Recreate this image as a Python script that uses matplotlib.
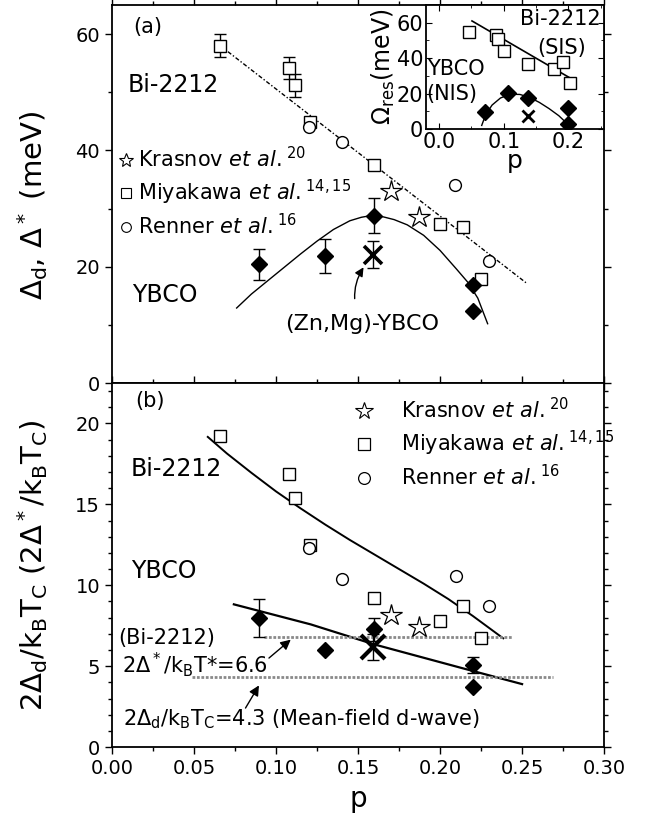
import numpy as np
import matplotlib
matplotlib.use("Agg")
import matplotlib.pyplot as plt
from matplotlib.lines import Line2D

plt.rcParams['font.family'] = ['DejaVu Sans']
plt.rcParams['mathtext.fontset'] = 'dejavusans'

# ---------------- panel (a): gap energies (meV) ----------------
miy_p = [0.066, 0.108, 0.1116, 0.121, 0.160, 0.1998, 0.214, 0.225]
miy_gap = [58.0, 54.2, 51.2, 44.9, 37.5, 27.4, 26.9, 17.9]
miy_gap_err = [2.0, 1.9, 2.0, 0, 0, 0, 0, 0]

ren_p = [0.120, 0.140, 0.209, 0.2297]
ren_gap = [44.0, 41.5, 34.0, 20.9]

kra_p = [0.170, 0.187]
kra_gap = [33.0, 28.5]

ybco_p = [0.0897, 0.130, 0.1596, 0.220, 0.220]
ybco_gap = [20.4, 21.85, 28.8, 16.9, 12.3]
ybco_gap_err = [2.6, 3.0, 3.0, 0, 0]

zn_p = [0.159]
zn_gap = [22.1]
zn_gap_err = [2.4]

# dash-dot guide through Bi-2212 data
bi_line_p = [0.066, 0.2526]
bi_line_gap = [58.0, 17.2]

# dome curve for YBCO
dome_p = [0.076, 0.085, 0.095, 0.105, 0.115, 0.125, 0.135, 0.145, 0.152, 0.158,
          0.165, 0.172, 0.180, 0.190, 0.200, 0.210, 0.217, 0.223, 0.229]
dome_gap = [12.9, 15.3, 17.6, 19.9, 22.2, 24.4, 26.4, 27.9, 28.5, 28.8,
            28.6, 28.1, 27.2, 25.4, 22.8, 19.6, 17.3, 14.6, 10.2]

# ---------------- panel (b): ratios ----------------
miy_ratio = [19.23, 16.9, 15.4, 12.47, 9.2, 7.82, 8.69, 6.72]
ren_p_b = [0.120, 0.140, 0.210, 0.230]
ren_ratio = [12.3, 10.4, 10.59, 8.73]
kra_ratio = [8.17, 7.45]
ybco_ratio = [7.96, 6.0, 7.28, 5.07, 3.72]
ybco_ratio_err = [1.18, 0, 0.7, 0.5, 0]
zn_ratio = [6.2]
zn_ratio_err = [0.8]

bi_curve_p = [0.0584, 0.070, 0.085, 0.100, 0.115, 0.130, 0.145, 0.160, 0.175,
              0.190, 0.205, 0.220, 0.2385]
bi_curve_ratio = [19.17, 18.15, 16.95, 15.8, 14.75, 13.75, 12.8, 11.9, 11.0,
                  10.1, 9.15, 8.1, 6.72]

yb_curve_p = [0.0743, 0.1212, 0.160, 0.213, 0.250]
yb_curve_ratio = [8.82, 7.58, 6.34, 4.89, 3.89]

pg_level = 6.8          # 2D*/kBT* = 6.6 guide
pg_span = [0.0925, 0.2438]
mf_level = 4.3          # mean-field d-wave
mf_span = [0.0488, 0.269]

# ---------------- inset: resonance energy ----------------
ins_sq_p = [0.046, 0.0877, 0.0914, 0.100, 0.137, 0.178, 0.191, 0.203]
ins_sq_res = [54.5, 53.0, 50.7, 43.8, 36.8, 33.6, 38.1, 26.1]
ins_line_p = [0.051, 0.209]
ins_line_res = [61.0, 27.4]
ins_dia_p = [0.0705, 0.107, 0.138, 0.199, 0.199]
ins_dia_res = [9.3, 20.3, 17.5, 11.6, 2.8]
ins_x_p = [0.138]
ins_x_res = [7.3]
ins_curve_p = [0.066, 0.072, 0.082, 0.095, 0.110, 0.125, 0.140, 0.155, 0.170, 0.185, 0.198]
ins_curve_res = [2.0, 8.0, 13.5, 17.5, 19.6, 19.5, 17.8, 15.0, 11.5, 7.5, 3.0]

fig = plt.figure(figsize=(6.45, 8.23), dpi=100)
axa = fig.add_axes([0.1736, 0.5346, 0.763, 0.4593])
axb = fig.add_axes([0.1736, 0.0923, 0.763, 0.4423])
axi = fig.add_axes([0.6605, 0.8433, 0.2761, 0.1506])

sq = dict(marker='s', ms=8, mfc='white', mec='k', mew=1.0, ls='none')
ci = dict(marker='o', ms=8.5, mfc='white', mec='k', mew=1.0, ls='none')
st = dict(marker='*', ms=16, mfc='white', mec='k', mew=0.9, ls='none')
di = dict(marker='D', ms=8, mfc='k', mec='k', ls='none')
xx = dict(marker='x', ms=13, mec='k', mew=2.6, ls='none')
eb = dict(ecolor='k', elinewidth=1.0, capsize=4, capthick=1.0)

lab = [r'Krasnov $\mathit{et\ al.}^{20}$',
       r'Miyakawa $\mathit{et\ al.}^{14,15}$',
       r'Renner $\mathit{et\ al.}^{16}$']

# ---------- panel (a) ----------
ax = axa
ax.plot(bi_line_p, bi_line_gap, color='k', lw=1.0, dashes=(3, 1.5, 1, 1.5))
ax.plot(dome_p, dome_gap, color='k', lw=1.0)
ax.errorbar(miy_p, miy_gap, yerr=miy_gap_err, fmt='none', **eb)
ax.plot(miy_p, miy_gap, **sq)
ax.plot(ren_p, ren_gap, **ci)
ax.plot(kra_p, kra_gap, **st)
ax.errorbar(ybco_p, ybco_gap, yerr=ybco_gap_err, fmt='none', **eb)
ax.plot(ybco_p, ybco_gap, **di)
ax.errorbar(zn_p, zn_gap, yerr=zn_gap_err, fmt='none', **eb)
ax.plot(zn_p, zn_gap, **xx)

ax.set_xlim(0, 0.30)
ax.set_ylim(0, 65)
ax.set_xticks(np.arange(0, 0.301, 0.05))
ax.set_xticks(np.arange(0, 0.301, 0.025), minor=True)
ax.set_yticks([0, 20, 40, 60])
ax.set_yticks([10, 30, 50], minor=True)
ax.tick_params(labelbottom=False)
ax.set_ylabel(r'$\Delta_\mathrm{d}$, $\Delta^*$ (meV)', fontsize=21)
ax.yaxis.set_label_coords(-0.125, 0.47)

ax.text(0.013, 61.3, '(a)', fontsize=15, va='center')
ax.text(0.0093, 51.2, 'Bi-2212', fontsize=17, va='center')
ax.text(0.0123, 15.2, 'YBCO', fontsize=17, va='center')
ax.annotate('(Zn,Mg)-YBCO', xy=(0.1538, 20.1), xytext=(0.1526, 10.2),
            fontsize=16, ha='center', va='center',
            arrowprops=dict(arrowstyle='-|>', color='k', lw=1.0, mutation_scale=13,
                            shrinkA=9, shrinkB=1, connectionstyle='arc3,rad=-0.3'))

hl_a = [Line2D([], [], marker='*', ms=10, mfc='white', mec='k', mew=0.8, ls='none'),
        Line2D([], [], marker='s', ms=7, mfc='white', mec='k', mew=0.8, ls='none'),
        Line2D([], [], marker='o', ms=7, mfc='white', mec='k', mew=0.8, ls='none')]
ax.legend(hl_a, lab, loc='upper left', bbox_to_anchor=(-0.01, 0.66), frameon=False,
          fontsize=15, handlelength=0.6, handletextpad=0.3, labelspacing=0.3,
          borderaxespad=0.2)

# ---------- panel (b) ----------
ax = axb
ax.plot(bi_curve_p, bi_curve_ratio, color='k', lw=1.4)
ax.plot(yb_curve_p, yb_curve_ratio, color='k', lw=1.6)
ax.plot(pg_span, [pg_level, pg_level], color='#8a8a8a', lw=2.0, ls=(0, (1, 0.6)))
ax.plot(mf_span, [mf_level, mf_level], color='#8a8a8a', lw=2.0, ls=(0, (1, 0.6)))
ax.plot(miy_p, miy_ratio, **sq)
ax.plot(ren_p_b, ren_ratio, **ci)
ax.plot(kra_p, kra_ratio, **st)
ax.errorbar(ybco_p, ybco_ratio, yerr=ybco_ratio_err, fmt='none', **eb)
ax.plot(ybco_p, ybco_ratio, **di)
ax.errorbar(zn_p, zn_ratio, yerr=zn_ratio_err, fmt='none', **eb)
ax.plot(zn_p, zn_ratio, marker='x', ms=17, mec='k', mew=3, ls='none')

ax.set_xlim(0, 0.30)
ax.set_ylim(0, 22.5)
ax.set_xticks(np.arange(0, 0.301, 0.05))
ax.set_xticks(np.arange(0, 0.301, 0.025), minor=True)
ax.set_yticks([0, 5, 10, 15, 20])
ax.set_yticks(np.arange(0, 23, 1), minor=True)
ax.xaxis.set_major_formatter(plt.FormatStrFormatter('%.2f'))
ax.set_xlabel('p', fontsize=20, labelpad=5)
ax.set_ylabel(r'2$\Delta_\mathrm{d}$/k$_\mathrm{B}$T$_\mathrm{C}$ (2$\Delta^*$/k$_\mathrm{B}$T$_\mathrm{C}$)',
              fontsize=21)
ax.yaxis.set_label_coords(-0.125, 0.5)

ax.text(0.0143, 21.4, '(b)', fontsize=15, va='center')
ax.text(0.0113, 17.17, 'Bi-2212', fontsize=17, va='center')
ax.text(0.0118, 10.86, 'YBCO', fontsize=17, va='center')
ax.text(0.004, 6.74, '(Bi-2212)', fontsize=15, va='center')
ax.text(0.006, 5.1, r'2$\Delta^*$/k$_\mathrm{B}$T*=6.6', fontsize=15, va='center')
ax.text(0.007, 1.7, r'2$\Delta_\mathrm{d}$/k$_\mathrm{B}$T$_\mathrm{C}$=4.3 (Mean-field d-wave)',
        fontsize=15, va='center')
ax.annotate('', xy=(0.109, 6.64), xytext=(0.0957, 5.5),
            arrowprops=dict(arrowstyle='-|>', color='k', lw=1.0, mutation_scale=15,
                            shrinkA=0, shrinkB=0))
ax.annotate('', xy=(0.0896, 3.81), xytext=(0.0814, 2.41),
            arrowprops=dict(arrowstyle='-|>', color='k', lw=1.0, mutation_scale=15,
                            shrinkA=0, shrinkB=0))

hl_b = [Line2D([], [], marker='*', ms=13, mfc='white', mec='k', mew=0.8, ls='none'),
        Line2D([], [], marker='s', ms=8, mfc='white', mec='k', mew=0.9, ls='none'),
        Line2D([], [], marker='o', ms=8.5, mfc='white', mec='k', mew=0.9, ls='none')]
ax.legend(hl_b, lab, loc='upper left', bbox_to_anchor=(0.465, 0.995), frameon=False,
          fontsize=15, handlelength=1.0, handletextpad=1.3, labelspacing=0.3,
          borderaxespad=0.2)

for ax in (axa, axb):
    ax.tick_params(which='both', direction='out', top=True, right=True, labelsize=14,
                   width=1.0)
    ax.tick_params(which='major', length=5)
    ax.tick_params(which='minor', length=3)
    for s in ax.spines.values():
        s.set_linewidth(1.3)

# ---------- inset ----------
ax = axi
ax.plot(ins_line_p, ins_line_res, color='k', lw=1.2)
ax.plot(ins_curve_p, ins_curve_res, color='k', lw=1.0)
ax.plot(ins_sq_p, ins_sq_res, marker='s', ms=8, mfc='white', mec='k', mew=1.0, ls='none')
ax.plot(ins_dia_p, ins_dia_res, marker='D', ms=8, mfc='k', mec='k', ls='none')
ax.plot(ins_x_p, ins_x_res, marker='x', ms=9, mec='k', mew=2, ls='none')
ax.set_xlim(-0.02, 0.255)
ax.set_ylim(0, 70)
ax.set_xticks([0.0, 0.1, 0.2])
ax.set_xticks([0.05, 0.15, 0.25], minor=True)
ax.set_yticks([0, 20, 40, 60])
ax.set_yticks([10, 30, 50], minor=True)
ax.xaxis.set_major_formatter(plt.FormatStrFormatter('%.1f'))
ax.tick_params(which='both', direction='in', top=True, right=True, labelsize=15,
               pad=2)
ax.tick_params(which='major', length=4)
ax.tick_params(which='minor', length=2.5)
for s in ax.spines.values():
    s.set_linewidth(1.3)
ax.set_xlabel('p', fontsize=18, labelpad=-2)
ax.set_ylabel(r'$\Omega_\mathrm{res}$(meV)', fontsize=17, labelpad=0)
ax.text(0.250, 62, 'Bi-2212', fontsize=15, ha='right', va='center')
ax.text(0.190, 46, '(SIS)', fontsize=15, ha='center', va='center')
ax.text(-0.019, 34, 'YBCO', fontsize=15, va='center')
ax.text(-0.019, 20, '(NIS)', fontsize=15, va='center')

fig.savefig('out.png', dpi=100)
